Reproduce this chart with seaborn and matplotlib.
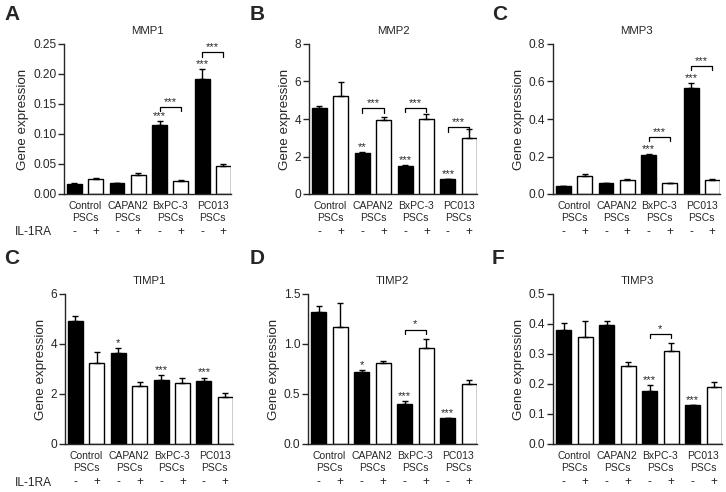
import numpy as np
import pandas as pd
import matplotlib.pyplot as plt
import seaborn as sns

groups = ['Control\nPSCs', 'CAPAN2\nPSCs', 'BxPC-3\nPSCs', 'PC013\nPSCs']
treatment = ['-', '+'] * 4
conditions = ['Control -', 'Control +', 'CAPAN2 -', 'CAPAN2 +',
              'BxPC-3 -', 'BxPC-3 +', 'PC013 -', 'PC013 +']

# means and upper error (SEM)
mmp1_mean = [0.017, 0.025, 0.018, 0.031, 0.115, 0.022, 0.191, 0.047]
mmp1_sem = [0.001, 0.002, 0.0005, 0.004, 0.007, 0.0015, 0.017, 0.003]
mmp1_stars = ['', '', '', '', '***', '', '***', '']
mmp1_brackets = [(2, '***', 0.145), (3, '***', 0.236)]

mmp2_mean = [4.61, 5.2, 2.2, 3.95, 1.48, 4.0, 0.79, 3.0]
mmp2_sem = [0.09, 0.75, 0.04, 0.16, 0.06, 0.25, 0.02, 0.45]
mmp2_stars = ['', '', '**', '', '***', '', '***', '']
mmp2_brackets = [(1, '***', 4.57), (2, '***', 4.6), (3, '***', 3.57)]

mmp3_mean = [0.043, 0.094, 0.057, 0.075, 0.208, 0.057, 0.565, 0.075]
mmp3_sem = [0.001, 0.013, 0.002, 0.004, 0.004, 0.003, 0.027, 0.003]
mmp3_stars = ['', '', '', '', '***', '', '***', '']
mmp3_brackets = [(2, '***', 0.306), (3, '***', 0.684)]

timp1_mean = [4.94, 3.25, 3.65, 2.32, 2.55, 2.43, 2.52, 1.89]
timp1_sem = [0.2, 0.44, 0.2, 0.18, 0.2, 0.2, 0.14, 0.16]
timp1_stars = ['', '', '*', '', '***', '', '***', '']
timp1_brackets = []

timp2_mean = [1.32, 1.17, 0.72, 0.81, 0.405, 0.965, 0.26, 0.6]
timp2_sem = [0.06, 0.24, 0.02, 0.02, 0.025, 0.09, 0.003, 0.04]
timp2_stars = ['', '', '*', '', '***', '', '***', '']
timp2_brackets = [(2, '*', 1.145)]

timp3_mean = [0.38, 0.356, 0.397, 0.261, 0.178, 0.309, 0.13, 0.191]
timp3_sem = [0.022, 0.054, 0.013, 0.013, 0.018, 0.027, 0.001, 0.015]
timp3_stars = ['', '', '', '', '***', '', '***', '']
timp3_brackets = [(2, '*', 0.367)]

titles = ['MMP1', 'MMP2', 'MMP3', 'TIMP1', 'TIMP2', 'TIMP3']
letters = ['A', 'B', 'C', 'C', 'D', 'F']
yticks = [[0, 0.05, 0.10, 0.15, 0.20, 0.25], [0, 2, 4, 6, 8], [0, 0.2, 0.4, 0.6, 0.8],
          [0, 2, 4, 6], [0, 0.5, 1.0, 1.5], [0, 0.1, 0.2, 0.3, 0.4, 0.5]]
ytick_labels = [['0.00', '0.05', '0.10', '0.15', '0.20', '0.25'], ['0', '2', '4', '6', '8'],
                ['0.0', '0.2', '0.4', '0.6', '0.8'], ['0', '2', '4', '6'],
                ['0.0', '0.5', '1.0', '1.5'], ['0.0', '0.1', '0.2', '0.3', '0.4', '0.5']]

sns.set_style('ticks')
plt.rcParams['font.family'] = ['Liberation Sans', 'DejaVu Sans']

W, H = 726, 492
fig = plt.figure(figsize=(W / 100, H / 100), dpi=100)

# axes boxes in pixels: left, y of zero line, width, height
boxes = [(64, 194, 167, 150), (309, 194, 168, 150), (553, 194, 167, 150),
         (65, 444, 168, 150), (308, 444, 169, 150), (553, 444, 169, 150)]
letter_pos = [(4, 15), (250, 15), (492, 15), (4, 258), (250, 258), (492, 258)]

panels = [(mmp1_mean, mmp1_sem, mmp1_stars, mmp1_brackets),
          (mmp2_mean, mmp2_sem, mmp2_stars, mmp2_brackets),
          (mmp3_mean, mmp3_sem, mmp3_stars, mmp3_brackets),
          (timp1_mean, timp1_sem, timp1_stars, timp1_brackets),
          (timp2_mean, timp2_sem, timp2_stars, timp2_brackets),
          (timp3_mean, timp3_sem, timp3_stars, timp3_brackets)]

palette = {c: ('black' if c.endswith('-') else 'white') for c in conditions}

for k, (mean, sem, stars, brackets) in enumerate(panels):
    x0, y0, w, h = boxes[k]
    ax = fig.add_axes([x0 / W, 1 - y0 / H, w / W, h / H])
    df = pd.DataFrame({'cond': conditions, 'val': mean})
    sns.barplot(data=df, x='cond', y='val', hue='cond', palette=palette, order=conditions,
                hue_order=conditions, width=0.7, edgecolor='black', linewidth=1,
                errorbar=None, legend=False, ax=ax)
    pos = np.arange(8)
    ax.errorbar(pos, mean, yerr=[np.zeros(8), sem], fmt='none', ecolor='black',
                elinewidth=1, capsize=2.5, capthick=1, zorder=5)

    top = yticks[k][-1]
    ax.set_ylim(0, top)
    ax.set_xlim(-0.49, 7.36)
    ax.set_yticks(yticks[k])
    ax.set_yticklabels(ytick_labels[k], fontsize=8.6)
    ax.set_xticks([0.5, 2.5, 4.5, 6.5])
    ax.set_xticklabels(groups, fontsize=7.5, linespacing=1.2)
    ax.tick_params(axis='x', length=0, pad=5)
    ax.tick_params(axis='y', length=4, width=1, pad=1.5)
    ax.set_xlabel('')
    ax.set_ylabel('Gene expression', fontsize=9.6, labelpad=3)
    ax.set_title(titles[k], fontsize=8.2, pad=7)
    for s in ['top', 'right']:
        ax.spines[s].set_visible(False)
    for s in ['left', 'bottom']:
        ax.spines[s].set_linewidth(1)

    for i, t in enumerate(treatment):
        ax.annotate(t, xy=(i, 0), xycoords=('data', 'axes fraction'), xytext=(0, -27.5),
                    textcoords='offset points', ha='center', va='center', fontsize=8.5)

    for i, s in enumerate(stars):
        if s:
            ax.annotate(s, xy=(i, mean[i] + sem[i]), xytext=(0, 0), textcoords='offset points',
                        ha='center', va='bottom', fontsize=8)

    d = 0.03 * top
    for g, s, yb in brackets:
        ax.plot([2 * g, 2 * g, 2 * g + 1, 2 * g + 1], [yb - d, yb, yb, yb - d],
                color='black', lw=0.9, clip_on=False)
        ax.annotate(s, xy=(2 * g + 0.5, yb), xytext=(0, 0), textcoords='offset points',
                    ha='center', va='bottom', fontsize=8)

    lx, ly = letter_pos[k]
    fig.text(lx / W, 1 - ly / H, letters[k], fontsize=15, fontweight='bold', va='center')

for ly in (232, 483):
    fig.text(15 / W, 1 - ly / H, 'IL-1RA', fontsize=8.6, va='center')

fig.savefig('out.png', dpi=100)
